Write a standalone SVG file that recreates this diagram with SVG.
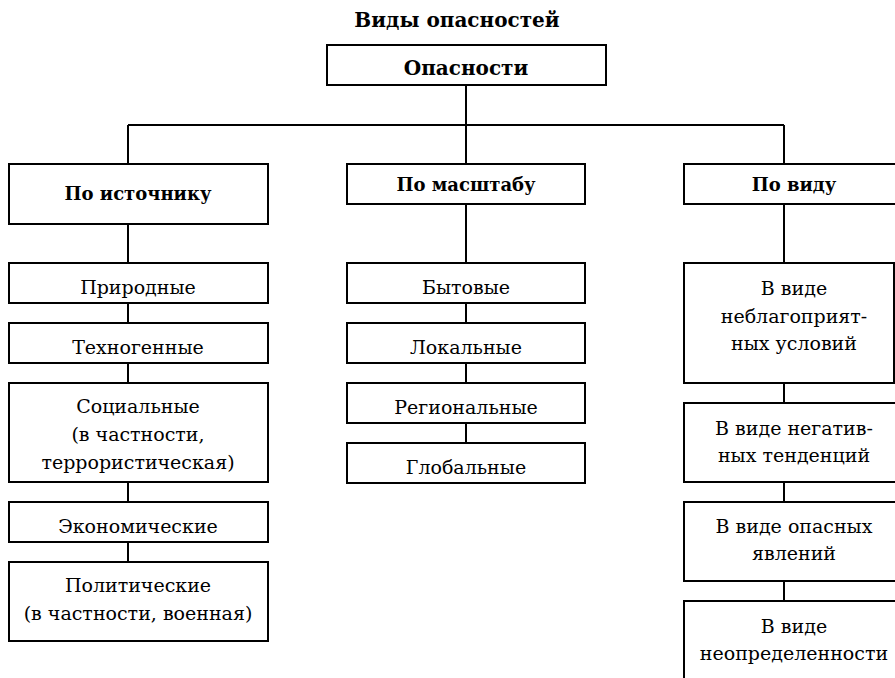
<svg xmlns="http://www.w3.org/2000/svg" width="895" height="678" viewBox="0 0 895 678">
<style>
.box{fill:#fff;stroke:#000;stroke-width:2}
.ln{stroke:#000;stroke-width:2;fill:none}
text{font-family:"DejaVu Serif","Liberation Serif",serif;text-anchor:middle;fill:#000}
.b{font-weight:bold;font-size:18px}
.bl{font-weight:bold;font-size:20px}
.r{font-size:19px}
</style>
<rect width="895" height="678" fill="#fff"/>
<text class="bl" x="457" y="27">Виды опасностей</text>
<g id="connectors">
<path class="ln" d="M466,85V164M128,125H784M128,125V164M784,125V164"/>
<path class="ln" d="M128,224V263M128,303V323M128,363V383M128,482V502M128,542V562"/>
<path class="ln" d="M466,204V263M466,303V323M466,363V383M466,423V443"/>
<path class="ln" d="M784,204V263M784,383V403M784,482V502M784,581V601"/>
</g>
<g id="n-root"><rect class="box" x="327" y="45" width="279" height="40"/><text class="bl" x="466" y="75">Опасности</text></g>
<g id="n-source"><rect class="box" x="9" y="164" width="259" height="60"/><text class="b" x="138" y="200">По источнику</text></g>
<g id="n-scale"><rect class="box" x="347" y="164" width="238" height="40"/><text class="b" x="466" y="191">По масштабу</text></g>
<g id="n-kind"><rect class="box" x="684" y="164" width="220" height="40"/><text class="b" x="794" y="191">По виду</text></g>
<g id="n-nat"><rect class="box" x="9" y="263" width="259" height="40"/><text class="r" x="138" y="294">Природные</text></g>
<g id="n-tech"><rect class="box" x="9" y="323" width="259" height="40"/><text class="r" x="138" y="354">Техногенные</text></g>
<g id="n-soc"><rect class="box" x="9" y="383" width="259" height="99"/><text class="r" x="138" y="413">Социальные</text><text class="r" x="138" y="441">(в частности,</text><text class="r" x="138" y="469">террористическая)</text></g>
<g id="n-eco"><rect class="box" x="9" y="502" width="259" height="40"/><text class="r" x="138" y="533">Экономические</text></g>
<g id="n-pol"><rect class="box" x="9" y="562" width="259" height="79"/><text class="r" x="138" y="592">Политические</text><text class="r" x="138" y="620">(в частности, военная)</text></g>
<g id="n-home"><rect class="box" x="347" y="263" width="238" height="40"/><text class="r" x="466" y="294">Бытовые</text></g>
<g id="n-local"><rect class="box" x="347" y="323" width="238" height="40"/><text class="r" x="466" y="354">Локальные</text></g>
<g id="n-reg"><rect class="box" x="347" y="383" width="238" height="40"/><text class="r" x="466" y="414">Региональные</text></g>
<g id="n-glob"><rect class="box" x="347" y="443" width="238" height="40"/><text class="r" x="466" y="474">Глобальные</text></g>
<g id="n-unfav"><rect class="box" x="684" y="263" width="210" height="120"/><text class="r" x="794" y="295">В виде</text><text class="r" x="794" y="323">неблагоприят-</text><text class="r" x="794" y="350">ных условий</text></g>
<g id="n-neg"><rect class="box" x="684" y="403" width="220" height="79"/><text class="r" x="794" y="435">В виде негатив-</text><text class="r" x="794" y="462">ных тенденций</text></g>
<g id="n-dang"><rect class="box" x="684" y="502" width="220" height="79"/><text class="r" x="794" y="533">В виде опасных</text><text class="r" x="794" y="560">явлений</text></g>
<g id="n-unc"><rect class="box" x="684" y="601" width="220" height="100"/><text class="r" x="794" y="633">В виде</text><text class="r" x="794" y="660">неопределенности</text></g>
</svg>
